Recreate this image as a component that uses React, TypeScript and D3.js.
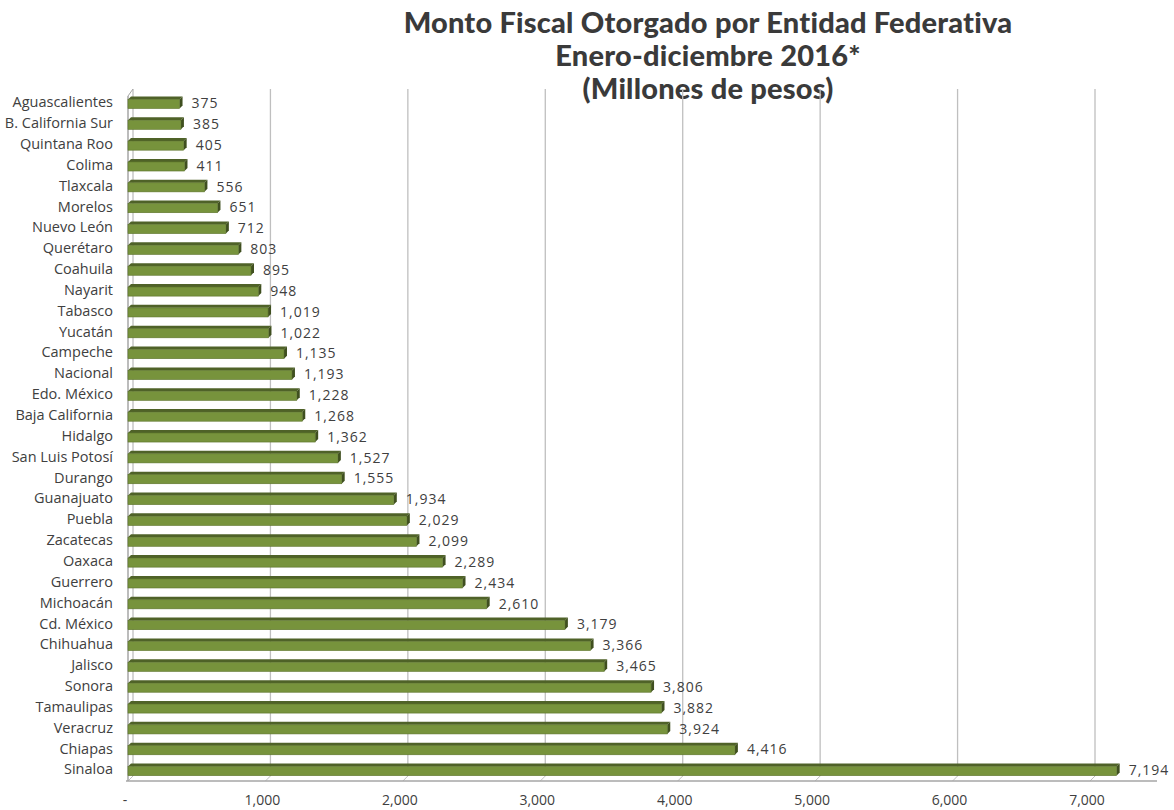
import React from "react";
import * as d3 from "d3";

const categories = [
  "Aguascalientes", "B. California Sur", "Quintana Roo", "Colima", "Tlaxcala", "Morelos",
  "Nuevo León", "Querétaro", "Coahuila", "Nayarit", "Tabasco", "Yucatán", "Campeche",
  "Nacional", "Edo. México", "Baja California", "Hidalgo", "San Luis Potosí", "Durango",
  "Guanajuato", "Puebla", "Zacatecas", "Oaxaca", "Guerrero", "Michoacán", "Cd. México",
  "Chihuahua", "Jalisco", "Sonora", "Tamaulipas", "Veracruz", "Chiapas", "Sinaloa",
];
const values = [
  375, 385, 405, 411, 556, 651, 712, 803, 895, 948, 1019, 1022, 1135, 1193, 1228, 1268,
  1362, 1527, 1555, 1934, 2029, 2099, 2289, 2434, 2610, 3179, 3366, 3465, 3806, 3882,
  3924, 4416, 7194,
];
const ticks = [0, 1000, 2000, 3000, 4000, 5000, 6000, 7000];
const titleLines = ["Monto Fiscal Otorgado por Entidad Federativa", "Enero-diciembre 2016*", "(Millones de pesos)"];

export default function App() {
  const W = 1174, H = 810;
  const D = 5; // depth offset of back wall
  const x = d3.scaleLinear().domain([0, 7000]).range([128, 1090]);
  const y = d3.scaleBand().domain(categories).range([92, 780]).paddingInner(0.42).paddingOuter(0.21);
  const fmt = d3.format(",");
  const top = 89, bottom = 781;
  const text = "#404040";
  const font = "'Open Sans', 'DejaVu Sans', sans-serif";
  const bd = 3;
  return (
    <svg width={W} height={H} style={{ position: "absolute", left: 0, top: 0, background: "#fff" }}>
      {titleLines.map((t, i) => (
        <text key={i} x={708} y={33 + i * 33} textAnchor="middle" fontFamily="Lato, 'Open Sans', sans-serif"
          fontWeight={900} fontSize={29} letterSpacing={0.2} fill="#3a3a3a">{t}</text>
      ))}
      {/* gridlines on back wall */}
      {ticks.map((t) => (
        <g key={t}>
          <line x1={x(t) + D} x2={x(t) + D} y1={top} y2={bottom - D} stroke="#bfbfbf" strokeWidth={1.3} />
          <line x1={x(t) + D} y1={bottom - D} x2={x(t)} y2={bottom} stroke="#bfbfbf" strokeWidth={1} />
        </g>
      ))}
      {/* left wall front edge */}
      <line x1={x(0)} x2={x(0)} y1={top + D + 2} y2={bottom} stroke="#a6a6a6" strokeWidth={1.5} />
      <line x1={x(0)} y1={top + D + 2} x2={x(0) + D} y2={top} stroke="#a6a6a6" strokeWidth={1} />
      {/* bottom axis */}
      <line x1={x(0) - 2} x2={1157} y1={bottom} y2={bottom} stroke="#a6a6a6" strokeWidth={1.5} />
      {ticks.map((t) => (
        <text key={t} x={x(t) - 3} y={805} textAnchor="middle" fontFamily={font} fontSize={14} fill={text}>
          {t === 0 ? "-" : fmt(t)}
        </text>
      ))}
      {categories.map((c, i) => {
        const v = values[i];
        const yt = (y(c) as number);
        const h = y.bandwidth();
        const x0 = x(0), x1 = x(v);
        const ft = yt + bd;
        return (
          <g key={c}>
            <text x={113} y={yt + h / 2 + 1} textAnchor="end" dominantBaseline="middle" fontFamily={font}
              fontSize={14.5} fill={text}>{c}</text>
            <polygon points={`${x0},${ft} ${x0 + bd},${yt} ${x1 + bd},${yt} ${x1},${ft}`} fill="#4f6228" />
            <polygon points={`${x1},${ft} ${x1 + bd},${yt} ${x1 + bd},${yt + h - bd} ${x1},${yt + h}`} fill="#3f4f1f" />
            <rect x={x0} y={ft} width={x1 - x0} height={h - bd} fill="#77933c" stroke="#5b7229" strokeWidth={0.6} />
            <text x={x1 + 12} y={yt + h / 2 + 2} dominantBaseline="middle" fontFamily={font} fontSize={14}
              letterSpacing={1} fill={text}>{fmt(v)}</text>
          </g>
        );
      })}
    </svg>
  );
}
